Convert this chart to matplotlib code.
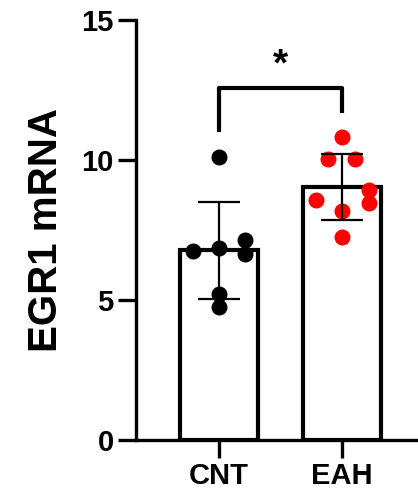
import numpy as np
import matplotlib
matplotlib.use('Agg')
import matplotlib.pyplot as plt

plt.rcParams['font.family'] = ['Liberation Sans', 'DejaVu Sans']
plt.rcParams['font.weight'] = 'bold'

groups = ['CNT', 'EAH']
cnt = [10.1, 6.75, 6.86, 7.14, 6.64, 5.2, 4.75]
eah = [10.82, 10.04, 10.04, 8.93, 8.57, 8.46, 8.18, 7.25]
# horizontal scatter offsets (swarm-like)
cnt_dx = [0, -0.21, 0, 0.21, 0.21, 0, 0]
eah_dx = [0, -0.11, 0.11, 0.22, -0.21, 0.22, 0, 0]
colors = ['black', 'red']
ylabel = 'EGR1 mRNA'

data = [np.array(cnt), np.array(eah)]
means = [d.mean() for d in data]
sds = [d.std(ddof=1) for d in data]

fig = plt.figure(figsize=(4.18, 4.93), dpi=100)
ax = fig.add_axes([0.325, 0.1075, 0.675, 0.8515])

x = np.arange(len(groups))
ax.bar(x, means, width=0.634, color='white', edgecolor='black', linewidth=3, zorder=1)
ax.errorbar(x, means, yerr=sds, fmt='none', ecolor='black', elinewidth=1.6,
            capsize=15, capthick=1.6, zorder=3)
for xi, d, dx, c in zip(x, [cnt, eah], [cnt_dx, eah_dx], colors):
    ax.plot(xi + np.array(dx), d, 'o', color=c, markersize=10.5, zorder=2)

# significance bracket
ax.plot([0, 0, 1, 1], [11.0, 12.57, 12.57, 11.7], color='black', lw=3,
        solid_capstyle='butt', clip_on=False)
ax.text(0.5, 12.75, '*', ha='center', va='bottom', fontsize=28, fontweight='bold')

ax.set_xlim(-0.675, 1.62)
ax.set_ylim(0, 15)
ax.set_yticks([0, 5, 10, 15])
ax.set_xticks(x)
ax.set_xticklabels(groups)
ax.set_ylabel(ylabel, fontsize=29, fontweight='bold', labelpad=12)
ax.tick_params(axis='both', labelsize=21, width=2.4, length=13, pad=3)
for lab in ax.get_xticklabels() + ax.get_yticklabels():
    lab.set_fontweight('bold')
ax.spines['top'].set_visible(False)
ax.spines['right'].set_visible(False)
ax.spines['left'].set_linewidth(2.4)
ax.spines['bottom'].set_linewidth(2.4)

fig.savefig('out.png', dpi=100)
